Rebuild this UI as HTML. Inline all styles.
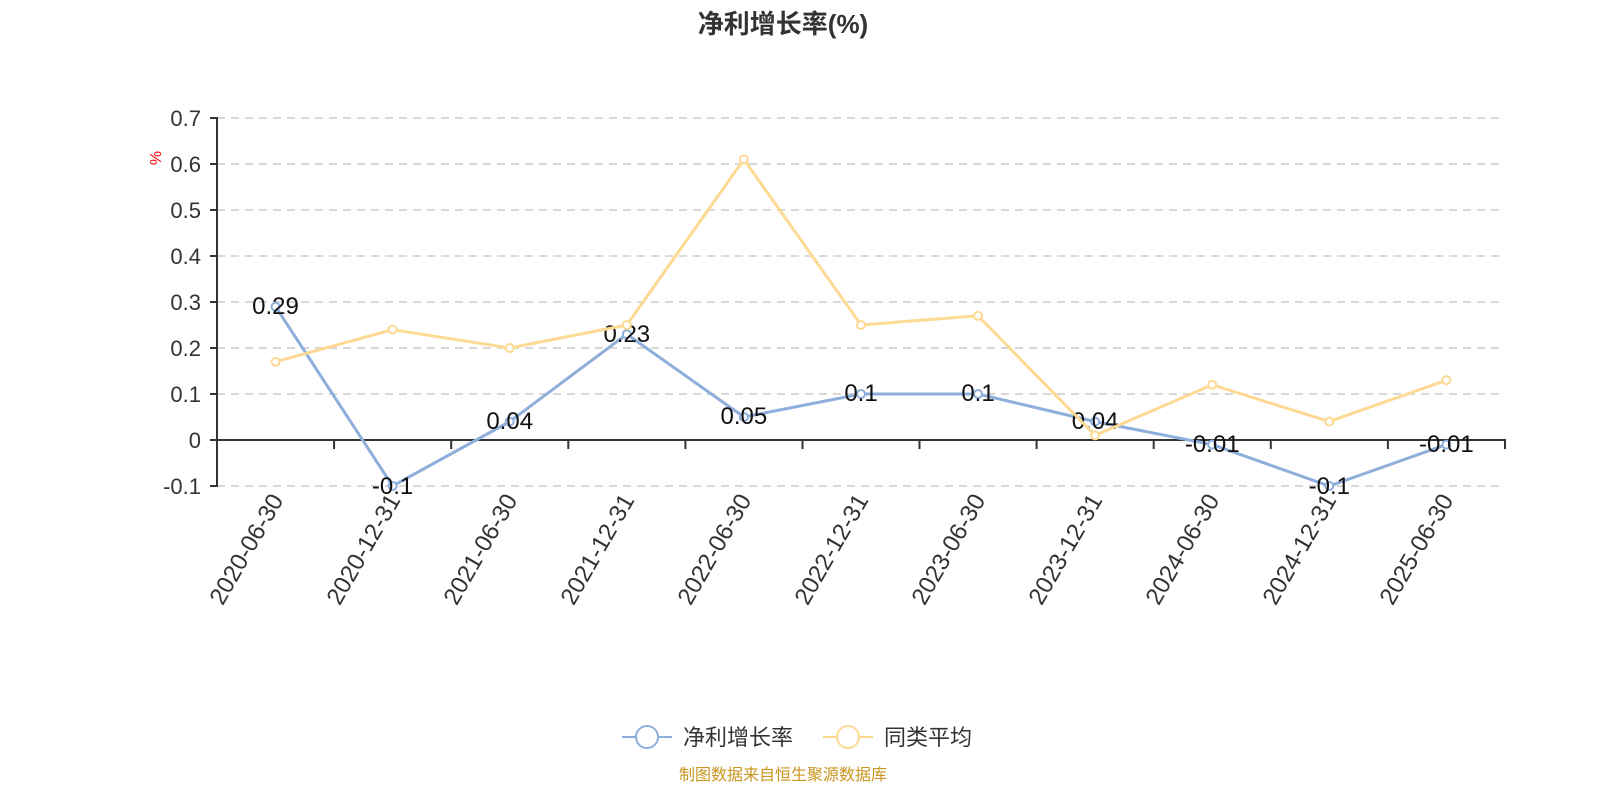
<!DOCTYPE html>
<html><head><meta charset="utf-8"><style>
body{margin:0;background:#fff;width:1600px;height:800px;overflow:hidden}
svg text{font-family:"Liberation Sans","Noto Sans CJK SC",sans-serif}
</style></head><body>
<svg width="1600" height="800" viewBox="0 0 1600 800">
<text x="783" y="33" text-anchor="middle" font-size="26" font-weight="bold" fill="#333">净利增长率(%)</text>
<g stroke="#ccc" stroke-width="1.5" stroke-dasharray="8,6">
<line x1="217" x2="1505" y1="118" y2="118"/><line x1="217" x2="1505" y1="164" y2="164"/>
<line x1="217" x2="1505" y1="210" y2="210"/><line x1="217" x2="1505" y1="256" y2="256"/>
<line x1="217" x2="1505" y1="302" y2="302"/><line x1="217" x2="1505" y1="348" y2="348"/>
<line x1="217" x2="1505" y1="394" y2="394"/><line x1="217" x2="1505" y1="486" y2="486"/>
</g>
<g stroke="#333" stroke-width="2">
<line x1="217" y1="117" x2="217" y2="487"/>
<line x1="217" y1="440" x2="1506" y2="440"/>
<line x1="210" x2="217" y1="118" y2="118"/><line x1="210" x2="217" y1="164" y2="164"/>
<line x1="210" x2="217" y1="210" y2="210"/><line x1="210" x2="217" y1="256" y2="256"/>
<line x1="210" x2="217" y1="302" y2="302"/><line x1="210" x2="217" y1="348" y2="348"/>
<line x1="210" x2="217" y1="394" y2="394"/><line x1="210" x2="217" y1="440" y2="440"/>
<line x1="210" x2="217" y1="486" y2="486"/>
<path d="M334.1 440v9M451.2 440v9M568.3 440v9M685.4 440v9M802.5 440v9M919.5 440v9M1036.6 440v9M1153.7 440v9M1270.8 440v9M1387.9 440v9M1505 440v9"/>
</g>
<g font-size="22" fill="#333" text-anchor="end">
<text x="201" y="126">0.7</text><text x="201" y="172">0.6</text><text x="201" y="218">0.5</text>
<text x="201" y="264">0.4</text><text x="201" y="310">0.3</text><text x="201" y="356">0.2</text>
<text x="201" y="402">0.1</text><text x="201" y="448">0</text><text x="201" y="494">-0.1</text>
</g>
<text x="0" y="0" font-size="16" fill="red" transform="translate(161,158) rotate(-90)" text-anchor="middle">%</text>
<g font-size="24" fill="#333" text-anchor="end">
<text transform="translate(284,500) rotate(-60)">2020-06-30</text>
<text transform="translate(401,500) rotate(-60)">2020-12-31</text>
<text transform="translate(518,500) rotate(-60)">2021-06-30</text>
<text transform="translate(635,500) rotate(-60)">2021-12-31</text>
<text transform="translate(752,500) rotate(-60)">2022-06-30</text>
<text transform="translate(869,500) rotate(-60)">2022-12-31</text>
<text transform="translate(986,500) rotate(-60)">2023-06-30</text>
<text transform="translate(1103,500) rotate(-60)">2023-12-31</text>
<text transform="translate(1220,500) rotate(-60)">2024-06-30</text>
<text transform="translate(1337,500) rotate(-60)">2024-12-31</text>
<text transform="translate(1454,500) rotate(-60)">2025-06-30</text>
</g>
<polyline fill="none" stroke="#8eaedb" stroke-width="3" points="275.5,306.6 392.6,486 509.7,421.6 626.8,334.2 743.9,417 861,394 978,394 1095.1,421.6 1212.2,444.6 1329.3,486 1446.4,444.6"/>
<g fill="#fff" stroke="#8eaedb" stroke-width="2">
<circle cx="275.5" cy="306.6" r="4"/><circle cx="392.6" cy="486" r="4"/><circle cx="509.7" cy="421.6" r="4"/><circle cx="626.8" cy="334.2" r="4"/><circle cx="743.9" cy="417" r="4"/><circle cx="861" cy="394" r="4"/><circle cx="978" cy="394" r="4"/><circle cx="1095.1" cy="421.6" r="4"/><circle cx="1212.2" cy="444.6" r="4"/><circle cx="1329.3" cy="486" r="4"/><circle cx="1446.4" cy="444.6" r="4"/>
</g>
<g font-size="24" fill="#111" text-anchor="middle">
<text x="275.5" y="314">0.29</text><text x="392.6" y="494">-0.1</text><text x="509.7" y="429">0.04</text>
<text x="626.8" y="342">0.23</text><text x="743.9" y="424">0.05</text><text x="861" y="401">0.1</text>
<text x="978" y="401">0.1</text><text x="1095.1" y="429">0.04</text><text x="1212.2" y="452">-0.01</text>
<text x="1329.3" y="494">-0.1</text><text x="1446.4" y="452">-0.01</text>
</g>
<polyline fill="none" stroke="#fdd993" stroke-width="3" points="275.5,361.8 392.6,329.6 509.7,348 626.8,325 743.9,159.4 861,325 978,315.8 1095.1,435.4 1212.2,384.8 1329.3,421.6 1446.4,380.2"/>
<g fill="#fff" stroke="#fdd993" stroke-width="2">
<circle cx="275.5" cy="361.8" r="4"/><circle cx="392.6" cy="329.6" r="4"/><circle cx="509.7" cy="348" r="4"/><circle cx="626.8" cy="325" r="4"/><circle cx="743.9" cy="159.4" r="4"/><circle cx="861" cy="325" r="4"/><circle cx="978" cy="315.8" r="4"/><circle cx="1095.1" cy="435.4" r="4"/><circle cx="1212.2" cy="384.8" r="4"/><circle cx="1329.3" cy="421.6" r="4"/><circle cx="1446.4" cy="380.2" r="4"/>
</g>
<line x1="622" x2="672" y1="737" y2="737" stroke="#8eaedb" stroke-width="2"/>
<circle cx="647" cy="737" r="11" fill="#fff" stroke="#8eaedb" stroke-width="2"/>
<text x="683" y="745" font-size="22" fill="#333">净利增长率</text>
<line x1="823" x2="873" y1="737" y2="737" stroke="#fdd993" stroke-width="2"/>
<circle cx="848" cy="737" r="11" fill="#fff" stroke="#fdd993" stroke-width="2"/>
<text x="884" y="745" font-size="22" fill="#333">同类平均</text>
<text x="783" y="780" font-size="16" fill="#c8951e" text-anchor="middle">制图数据来自恒生聚源数据库</text>
</svg>
</body></html>
